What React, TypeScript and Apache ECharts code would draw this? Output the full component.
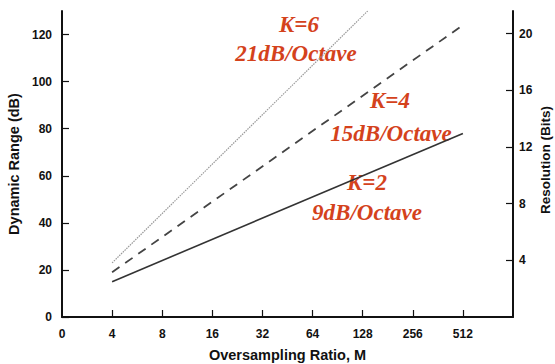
import React, { useEffect, useRef } from "react";
import * as echarts from "echarts";

// Octave index on the x axis: 0 -> "0", 1 -> "4", ..., 8 -> "512"
const xTickLabels = ["0", "4", "8", "16", "32", "64", "128", "256", "512"];
const leftTicks = [0, 20, 40, 60, 80, 100, 120];
const rightTicks = [4, 8, 12, 16, 20];

// [octave index, dynamic range dB]
const k2Line = [
  [1, 15],
  [8, 78],
];
const k4Line = [
  [1, 19],
  [8, 124],
];
const k6Line = [
  [1, 23],
  [6.1, 130],
];

const annotations = [
  { text: "K=6", x: 299, y: 24 },
  { text: "21dB/Octave", x: 296, y: 53 },
  { text: "K=4", x: 390, y: 100 },
  { text: "15dB/Octave", x: 391, y: 133 },
  { text: "K=2", x: 367, y: 182 },
  { text: "9dB/Octave", x: 367, y: 212 },
];

const rightTitle = "Resolution (Bits)";

const DB_MAX = 130;
const DB_PER_BIT = 6.02;

export default function App() {
  const ref = useRef<HTMLDivElement>(null);
  useEffect(() => {
    if (!ref.current) return;
    const chart = echarts.init(ref.current, null, { renderer: "svg" });
    const axisFont = {
      fontFamily: "Liberation Sans, Arial, sans-serif",
      fontWeight: "bold" as const,
      color: "#111",
    };
    chart.setOption({
      animation: false,
      backgroundColor: "#fff",
      grid: { left: 62, right: 42, top: 11, bottom: 47, outerBoundsMode: "none", containLabel: false },
      xAxis: {
        type: "value",
        min: 0,
        max: 9,
        interval: 1,
        name: "Oversampling Ratio, M",
        nameLocation: "middle",
        nameGap: 30,
        nameTextStyle: { ...axisFont, fontSize: 14.5 },
        axisLine: { show: true, lineStyle: { color: "#111", width: 2 } },
        axisTick: {
          show: true,
          inside: true,
          length: 7,
          customValues: [1, 2, 3, 4, 5, 6, 7, 8],
          lineStyle: { color: "#111", width: 1.2 },
        },
        axisLabel: {
          ...axisFont,
          fontSize: 12,
          margin: 11,
          customValues: [0, 1, 2, 3, 4, 5, 6, 7, 8],
          formatter: (v: number) => xTickLabels[Math.round(v)] ?? "",
        },
        splitLine: { show: false },
      },
      yAxis: [
        {
          type: "value",
          min: 0,
          max: DB_MAX,
          name: "Dynamic Range (dB)",
          nameLocation: "middle",
          nameGap: 34,
          nameTextStyle: { ...axisFont, fontSize: 14.5 },
          axisLine: { show: true, lineStyle: { color: "#111", width: 2 } },
          axisTick: {
            show: true,
            inside: true,
            length: 7,
            customValues: leftTicks,
            lineStyle: { color: "#111", width: 1.2 },
          },
          axisLabel: {
            ...axisFont,
            fontSize: 12,
            margin: 10,
            customValues: leftTicks,
          },
          splitLine: { show: false },
        },
        {
          type: "value",
          min: 0,
          max: DB_MAX / DB_PER_BIT,
          position: "right",
          axisLine: { show: true, lineStyle: { color: "#111", width: 2 } },
          axisTick: {
            show: true,
            inside: true,
            length: 7,
            customValues: rightTicks,
            lineStyle: { color: "#111", width: 1.2 },
          },
          axisLabel: {
            ...axisFont,
            fontSize: 12,
            margin: 6,
            customValues: rightTicks,
          },
          splitLine: { show: false },
        },
      ],
      series: [
        {
          type: "line",
          name: "K=2",
          data: k2Line,
          symbol: "none",
          clip: true,
          lineStyle: { color: "#333", width: 1.6, type: "solid" },
        },
        {
          type: "line",
          name: "K=4",
          data: k4Line,
          symbol: "none",
          clip: true,
          lineStyle: { color: "#444", width: 1.8, type: [9, 7] },
        },
        {
          type: "line",
          name: "K=6",
          data: k6Line,
          symbol: "none",
          clip: true,
          lineStyle: { color: "#999", width: 1.2, type: [1.5, 1] },
        },
      ],
      graphic: [
        ...annotations.map((a) => ({
          type: "text",
          x: a.x,
          y: a.y,
          style: {
            text: a.text,
            fill: "#d4421c",
            font: "italic bold 23px 'Liberation Serif', 'Times New Roman', serif",
            textAlign: "center",
            textVerticalAlign: "middle",
          },
        })),
        {
          type: "text",
          x: 545,
          y: 160,
          rotation: Math.PI / 2,
          style: {
            text: rightTitle,
            fill: "#111",
            font: "bold 13.5px 'Liberation Sans', Arial, sans-serif",
            textAlign: "center",
            textVerticalAlign: "middle",
          },
        },
      ],
    });
    return () => chart.dispose();
  }, []);
  return <div ref={ref} style={{ width: 555, height: 364, position: "absolute", left: 0, top: 0 }} />;
}
